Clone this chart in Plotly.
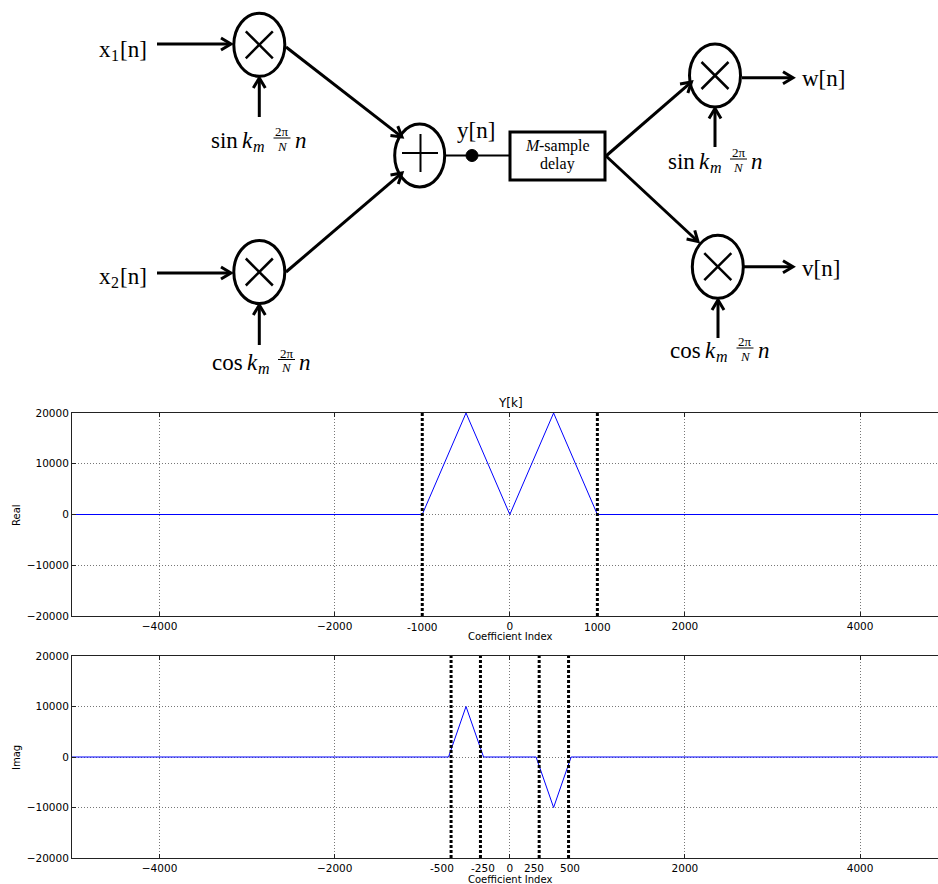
import math
import plotly.graph_objects as go

W, H = 938, 884

# ---------------- spectrum Y[k] ----------------
real_idx = [-5000, -1000, -500, 0, 500, 1000, 5000]
real_val = [0, 0, 20000, 0, 20000, 0, 0]
imag_idx = [-5000, -700, -500, -300, 300, 500, 700, 5000]
imag_val = [0, 0, 10000, 0, 0, -10000, 0, 0]

real_band_edges = [-1000, 1000]
real_band_labels = ["-1000", "1000"]
imag_band_edges = [-500, -250, 250, 500]
imag_band_labels = ["-500", "-250", "250", "500"]

x_ticks = [-4000, -2000, 0, 2000, 4000]
x_tick_text = ["\u22124000", "\u22122000", "0", "2000", "4000"]
y_ticks = [-20000, -10000, 0, 10000, 20000]
y_tick_text = ["\u221220000", "\u221210000", "0", "10000", "20000"]

SANS = "DejaVu Sans"
SERIF = "Liberation Serif"


def px(x):
    return x / W


def py(y):
    return 1 - y / H


shapes = []
annotations = []


def seg(x0, y0, x1, y1, width=3):
    shapes.append(dict(type="line", xref="paper", yref="paper",
                       x0=px(x0), y0=py(y0), x1=px(x1), y1=py(y1),
                       line=dict(color="black", width=width)))


def arrow(x0, y0, x1, y1, head=10, half=6, width=3):
    dx, dy = x1 - x0, y1 - y0
    n = math.hypot(dx, dy)
    ux, uy = dx / n, dy / n
    nx, ny = -uy, ux
    seg(x0, y0, x1 - 1.5 * ux, y1 - 1.5 * uy, width)
    bx, by = x1 - head * ux, y1 - head * uy
    path = (f"M{px(bx + half * nx)},{py(by + half * ny)} "
            f"L{px(x1)},{py(y1)} "
            f"L{px(bx - half * nx)},{py(by - half * ny)}")
    shapes.append(dict(type="path", xref="paper", yref="paper", path=path,
                       line=dict(color="black", width=width)))


def ellipse(cx, cy, rx, ry, width=3):
    shapes.append(dict(type="circle", xref="paper", yref="paper",
                       x0=px(cx - rx), x1=px(cx + rx), y0=py(cy + ry), y1=py(cy - ry),
                       line=dict(color="black", width=width), fillcolor="white"))


def multiplier(cx, cy, rx=25.5, ry=31.5):
    ellipse(cx, cy, rx, ry)
    d = 13.5
    seg(cx - d, cy - d, cx + d, cy + d, 2.5)
    seg(cx - d, cy + d, cx + d, cy - d, 2.5)


def text_at(s, x, base, size, xanchor="left", italic=False, family=SERIF):
    # place text so that its baseline sits at pixel row `base`
    top = base - 0.891 * size
    annotations.append(dict(text=s, x=px(x), y=py(top), xref="paper", yref="paper",
                            showarrow=False, xanchor=xanchor, yanchor="top", borderpad=0,
                            font=dict(family=family, size=size, color="black",
                                      style="italic" if italic else "normal")))


def signal_label(name, index, left, base):
    text_at(name, left, base, 23)
    text_at(index, left + 11.5, base + 4, 16)
    text_at("[n]", left + 20.5, base, 23)


def modulator_label(fn, left, base):
    extra = 4 if fn == "cos" else 0
    text_at(fn, left, base, 23)
    text_at("k", left + 31 + extra, base, 23, italic=True)
    text_at("m", left + 42 + extra, base + 4, 16, italic=True)
    fc = left + 72 + extra
    bar = base - 9.5
    seg(fc - 8.5, bar, fc + 8.5, bar, 1)
    text_at("2\u03c0", fc, base - 12.5, 13, "center")
    text_at("N", fc, base + 2, 13, "center", italic=True)
    text_at("n", left + 83.5 + extra, base, 23, italic=True)


# ---------------- block diagram ----------------
multiplier(259.3, 44.8)
multiplier(259.3, 272)
multiplier(715, 75.5)
multiplier(717.8, 266.7)

# adder
ellipse(419.7, 155.5, 25, 31.5)
seg(402, 153, 438, 153, 2)
seg(420.5, 134, 420.5, 172, 2)

arrow(157, 44, 231, 44)
arrow(157, 273, 231, 273)
arrow(259.3, 117, 259.3, 78)
arrow(259.3, 345, 259.3, 305)
arrow(286, 47, 402, 137)
arrow(286, 272, 402, 173)

# adder output, tap point and delay block
seg(446, 155.5, 509, 155.5, 2)
shapes.append(dict(type="circle", xref="paper", yref="paper",
                   x0=px(466), x1=px(478), y0=py(161.5), y1=py(149.5),
                   line=dict(color="black", width=1), fillcolor="black"))
shapes.append(dict(type="rect", xref="paper", yref="paper",
                   x0=px(510), x1=px(605), y0=py(180), y1=py(132),
                   line=dict(color="black", width=3), fillcolor="white"))

arrow(606, 156, 691.5, 82)
arrow(606, 156, 698, 241.5)
arrow(742, 77.7, 793, 77.7)
arrow(744, 266.7, 793, 266.7)
arrow(715, 147, 715, 108.5)
arrow(718, 338, 718, 300)

signal_label("x", "1", 98, 56)
signal_label("x", "2", 98, 283.5)
text_at("y[n]", 456, 137, 23)
text_at("w[n]", 801, 85.5, 23)
text_at("v[n]", 801, 275.5, 23)
text_at("M", 524, 150.5, 16, italic=True)
text_at("-sample", 537.5, 150.5, 16)
text_at("delay", 557.5, 168.5, 16, "center")

modulator_label("sin", 210, 147.5)
modulator_label("cos", 210.5, 369)
modulator_label("sin", 666.5, 168.5)
modulator_label("cos", 669, 357.5)

# ---------------- spectrum plots ----------------
fig = go.Figure()

fig.add_trace(go.Scatter(x=real_idx, y=real_val, mode="lines",
                         line=dict(color="blue", width=1), xaxis="x", yaxis="y"))
for e in real_band_edges:
    fig.add_trace(go.Scatter(x=[e, e], y=[-20000, 20000], mode="lines",
                             line=dict(color="black", width=3, dash="3px,2px"),
                             xaxis="x", yaxis="y"))

fig.add_trace(go.Scatter(x=imag_idx, y=imag_val, mode="lines",
                         line=dict(color="blue", width=1), xaxis="x2", yaxis="y2"))
for e in imag_band_edges:
    fig.add_trace(go.Scatter(x=[e, e], y=[-20000, 20000], mode="lines",
                             line=dict(color="black", width=3, dash="3px,2px"),
                             xaxis="x3", yaxis="y2"))

tick_font = dict(family=SANS, size=10.5, color="black")
x_common = dict(range=[-5000, 4890], tickmode="array", tickvals=x_ticks, ticktext=x_tick_text,
                ticks="inside", ticklen=4, tickcolor="#222", showline=True, linecolor="#222",
                linewidth=1, mirror="ticks", showgrid=True, gridcolor="#777", gridwidth=1,
                griddash="1px,2px", zeroline=False, tickfont=tick_font, automargin=False)
y_common = dict(range=[-20000, 20000], tickmode="array", tickvals=y_ticks, ticktext=y_tick_text,
                ticks="inside", ticklen=4, tickcolor="#222", showline=True, linecolor="#222",
                linewidth=1, mirror=False, showgrid=True, gridcolor="#777", gridwidth=1,
                griddash="1px,2px", zeroline=False, tickfont=tick_font, automargin=False)

x_dom = [72 / W, 1]
top_dom = [1 - 616 / H, 1 - 413 / H]
bot_dom = [1 - 858 / H, 1 - 656 / H]

for label, ly in [("Real", 515), ("Imag", 758)]:
    annotations.append(dict(text=label, x=px(16), y=py(ly), xref="paper", yref="paper",
                            showarrow=False, textangle=-90, xanchor="center", yanchor="middle",
                            font=dict(family=SANS, size=10, color="black")))
for ly in [636, 879]:
    annotations.append(dict(text="Coefficient Index", x=px(510), y=py(ly), xref="paper",
                            yref="paper", showarrow=False, xanchor="center", yanchor="middle",
                            font=dict(family=SANS, size=10, color="black")))
annotations.append(dict(text="Y[k]", x=px(510), y=py(403), xref="paper", yref="paper",
                        showarrow=False, xanchor="center", yanchor="middle",
                        font=dict(family=SANS, size=12, color="black")))
for e, lab in zip(real_band_edges, real_band_labels):
    annotations.append(dict(text=lab, x=e, y=py(627), xref="x", yref="paper",
                            showarrow=False, xanchor="center", yanchor="middle",
                            font=tick_font))
# band-edge labels under the Imag panel, nudged apart so they stay readable
for e, lab, nudge in zip(imag_band_edges, imag_band_labels, [-9, 3, -5, 1]):
    annotations.append(dict(text=lab, x=e, y=py(868), xref="x3", yref="paper",
                            showarrow=False, xanchor="center", yanchor="middle",
                            xshift=nudge, font=tick_font))

fig.update_layout(
    width=W, height=H,
    margin=dict(l=0, r=0, t=0, b=0),
    paper_bgcolor="white", plot_bgcolor="white",
    showlegend=False,
    xaxis=dict(domain=x_dom, anchor="y", **x_common),
    yaxis=dict(domain=top_dom, anchor="x", **y_common),
    xaxis2=dict(domain=x_dom, anchor="y2", **x_common),
    yaxis2=dict(domain=bot_dom, anchor="x2", **y_common),
    xaxis3=dict(overlaying="x2", anchor="y2", range=[-3727, 3645], visible=False),
    shapes=shapes,
    annotations=annotations,
)

fig.write_html("out.html")
